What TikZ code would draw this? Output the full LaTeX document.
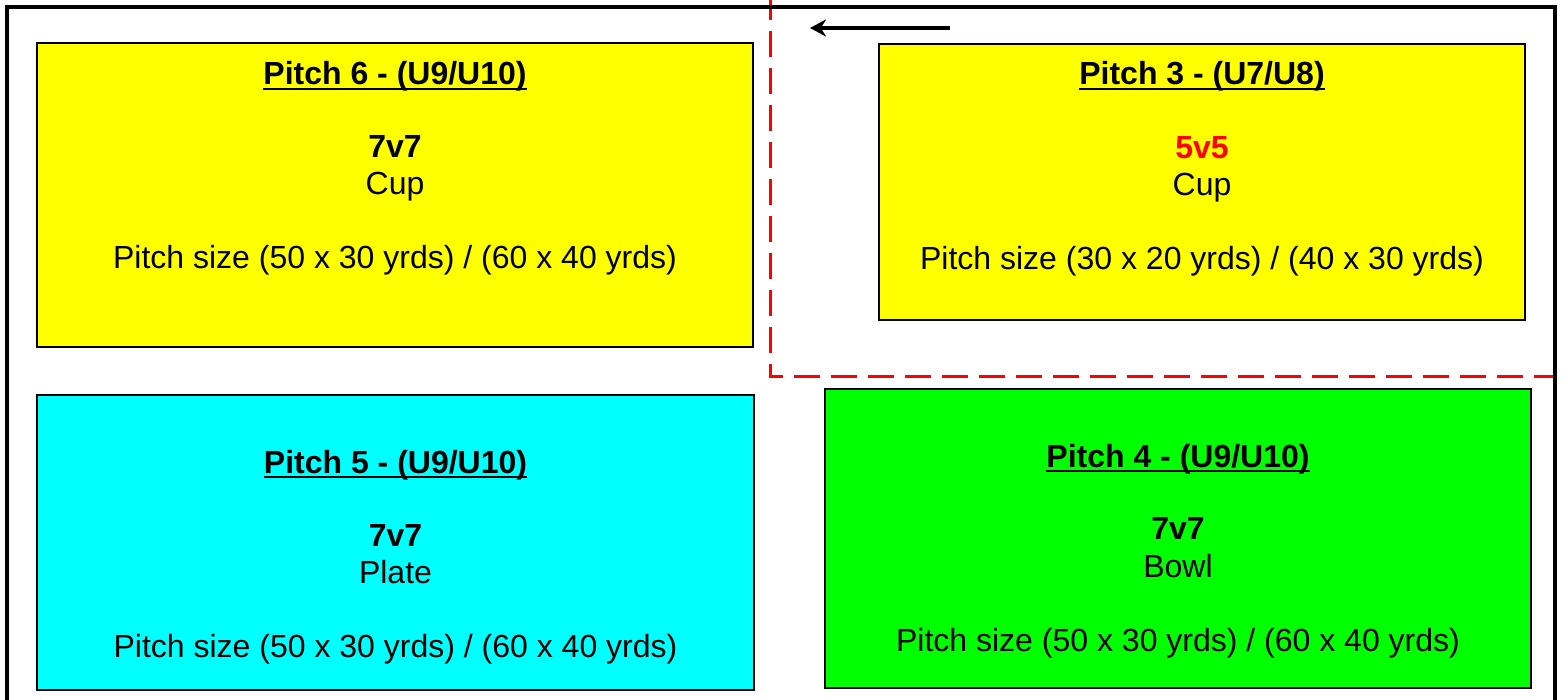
\documentclass[tikz,border=0pt]{standalone}
\usepackage{fontspec}
\setmainfont{Liberation Sans}
\usetikzlibrary{arrows.meta}
\definecolor{pyellow}{RGB}{255,255,0}
\definecolor{pcyan}{RGB}{0,255,255}
\definecolor{pgreen}{RGB}{0,255,0}
\definecolor{pred}{RGB}{255,0,0}
\begin{document}
\begin{tikzpicture}[x=1pt,y=-1pt,
  pitch/.style={draw=black, line width=1.5pt, inner sep=0pt, outer sep=0pt},
  ttl/.style={anchor=base, inner sep=0pt, font=\fontsize{32}{38}\selectfont\bfseries},
  txt/.style={anchor=base, inner sep=0pt, font=\fontsize{32}{38}\selectfont},
  ulline/.style={draw=black, line width=2.5pt},
  redzone/.style={draw=pred, line width=3pt, dash pattern=on 26pt off 11pt, dash phase=35pt},
  frame/.style={draw=black, line width=4pt},
  arr/.style={line width=3.5pt, -{Stealth[length=16pt,width=17pt]}}
]
\useasboundingbox (0,0) rectangle (1561,700);
% red dashed zone
\draw[redzone] (1554,-1) -- (770,-1) -- (770,377) -- (1554,377);
% outer frame
\draw[frame] (6.5,7) rectangle (1554.5,720);
% arrow
\coordinate (as) at (950,28);
\coordinate (ae) at (810,28);
\draw[arr] (as) -- (ae);
% pitch boxes
\node[pitch, fill=pyellow, minimum width=716pt, minimum height=304pt] (p6) at (395,195) {};
\node[pitch, fill=pyellow, minimum width=646pt, minimum height=276pt] (p3) at (1202,182) {};
\node[pitch, fill=pcyan, minimum width=717pt, minimum height=295pt] (p5) at (395.5,542.5) {};
\node[pitch, fill=pgreen, minimum width=706pt, minimum height=299pt] (p4) at (1178,538.5) {};
% pitch 6
\node[ttl] (t6) at (395,85) {Pitch 6 - (U9/U10)};
\draw[ulline] ([yshift=-4pt]t6.base west) -- ([yshift=-4pt]t6.base east);
\node[ttl] (f6) at (395,158) {7v7};
\node[txt] (c6) at (395,195) {Cup};
\node[txt] (s6) at (395,269) {Pitch size (50 x 30 yrds) / (60 x 40 yrds)};
% pitch 3
\node[ttl] (t3) at (1202,85) {Pitch 3 - (U7/U8)};
\draw[ulline] ([yshift=-4pt]t3.base west) -- ([yshift=-4pt]t3.base east);
\node[ttl, text=pred] (f3) at (1202,159) {5v5};
\node[txt] (c3) at (1202,196) {Cup};
\node[txt] (s3) at (1202,270) {Pitch size (30 x 20 yrds) / (40 x 30 yrds)};
% pitch 5
\node[ttl] (t5) at (395.5,473) {Pitch 5 - (U9/U10)};
\draw[ulline] ([yshift=-4pt]t5.base west) -- ([yshift=-4pt]t5.base east);
\node[ttl] (f5) at (395.5,546) {7v7};
\node[txt] (c5) at (395.5,583) {Plate};
\node[txt] (s5) at (395.5,657) {Pitch size (50 x 30 yrds) / (60 x 40 yrds)};
% pitch 4
\node[ttl] (t4) at (1178,467) {Pitch 4 - (U9/U10)};
\draw[ulline] ([yshift=-4pt]t4.base west) -- ([yshift=-4pt]t4.base east);
\node[ttl] (f4) at (1178,539) {7v7};
\node[txt] (c4) at (1178,577) {Bowl};
\node[txt] (s4) at (1178,651) {Pitch size (50 x 30 yrds) / (60 x 40 yrds)};
\end{tikzpicture}
\end{document}
